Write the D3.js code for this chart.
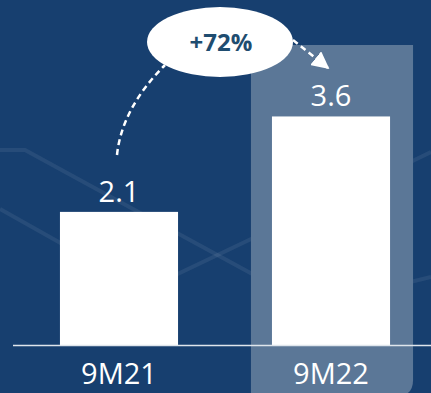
<!DOCTYPE html>
<html>
<head>
<meta charset="utf-8">
<script src="https://cdn.jsdelivr.net/npm/d3@7"></script>
<style>
  html, body { margin: 0; padding: 0; background: #173f6f; }
  svg { display: block; }
</style>
</head>
<body>
<svg id="chart" width="431" height="393"></svg>
<script>
// Period labels and values (bn)
const categories = ["9M21", "9M22"];
const values = [2.1, 3.6];
const growthLabel = "+72%";
const highlighted = "9M22";

// Faint decorative background traces
const backdropTraces = [
  [[0, 150], [25, 150], [144, 215], [300, 300]],
  [[0, 209], [144, 290], [270, 230], [431, 152]],
  [[300, 300], [390, 287], [431, 277]]
];

const W = 431, H = 393;
const svg = d3.select("#chart");
const font = "'Open Sans', 'Segoe UI', sans-serif";

const x = d3.scaleBand()
  .domain(categories)
  .range([16, 434])
  .paddingInner(0.443)
  .paddingOuter(0.2073);

const y = d3.scaleLinear().domain([0, 4]).range([345.5, 91]);

// background
svg.append("rect").attr("width", W).attr("height", H).attr("fill", "#173f6f");

svg.append("g")
  .selectAll("path")
  .data(backdropTraces)
  .join("path")
  .attr("d", d3.line())
  .attr("fill", "none")
  .attr("stroke", "#ffffff")
  .attr("stroke-opacity", 0.07)
  .attr("stroke-width", 4);

// highlight panel behind the current period
const hx0 = x(highlighted) - 21, hx1 = x(highlighted) + x.bandwidth() + 23;
const hy0 = 45, hy1 = 396, r = 16;
svg.append("path")
  .attr("d", `M${hx0},${hy0}H${hx1}V${hy1 - r}Q${hx1},${hy1} ${hx1 - r},${hy1}H${hx0}Z`)
  .attr("fill", "#5b7797");

// bars
svg.append("g")
  .selectAll("rect")
  .data(values)
  .join("rect")
  .attr("x", (d, i) => x(categories[i]))
  .attr("width", x.bandwidth())
  .attr("y", d => y(d))
  .attr("height", d => y(0) - y(d))
  .attr("fill", "#ffffff");

// baseline
svg.append("line")
  .attr("x1", 13).attr("x2", W)
  .attr("y1", y(0)).attr("y2", y(0))
  .attr("stroke", "#dfe5ec")
  .attr("stroke-width", 1.6);

// value labels
svg.append("g")
  .selectAll("text")
  .data(values)
  .join("text")
  .attr("x", (d, i) => x(categories[i]) + x.bandwidth() / 2)
  .attr("y", d => y(d) - 10)
  .attr("text-anchor", "middle")
  .attr("font-family", font)
  .attr("font-size", 29)
  .attr("fill", "#ffffff")
  .text(d => d.toFixed(1));

// category axis
const axis = svg.append("g")
  .attr("transform", `translate(0,${y(0)})`)
  .call(d3.axisBottom(x).tickSize(0).tickPadding(0));
axis.select(".domain").remove();
axis.selectAll("text")
  .attr("dy", null)
  .attr("y", 38)
  .attr("font-family", font)
  .attr("font-size", 29)
  .attr("fill", "#ffffff");

// growth annotation
const defs = svg.append("defs");
defs.append("marker")
  .attr("id", "arrowhead")
  .attr("viewBox", "0 0 10 10")
  .attr("refX", 9).attr("refY", 5)
  .attr("markerWidth", 7).attr("markerHeight", 7)
  .attr("markerUnits", "strokeWidth")
  .attr("orient", "auto")
  .append("path")
  .attr("d", "M0,0L10,5L0,10Z")
  .attr("fill", "#ffffff");

const c0 = x(categories[0]) + x.bandwidth() / 2;
const c1 = x(categories[1]) + x.bandwidth() / 2;
const cx = (c0 + c1) / 2 - 5, cy = 42;

svg.append("path")
  .attr("d", `M${c0 - 2},155Q${c0 + 3},108 ${cx - 55},65`)
  .attr("fill", "none")
  .attr("stroke", "#ffffff")
  .attr("stroke-width", 2.5)
  .attr("stroke-dasharray", "6,4");

svg.append("path")
  .attr("d", `M${cx + 73},40L${c1 - 3},68`)
  .attr("fill", "none")
  .attr("stroke", "#ffffff")
  .attr("stroke-width", 2.5)
  .attr("stroke-dasharray", "6,4")
  .attr("marker-end", "url(#arrowhead)");

svg.append("ellipse")
  .attr("cx", cx).attr("cy", cy)
  .attr("rx", 73).attr("ry", 35)
  .attr("fill", "#ffffff");

svg.append("text")
  .attr("x", cx + 1).attr("y", cy + 8.5)
  .attr("text-anchor", "middle")
  .attr("font-family", font)
  .attr("font-weight", 700)
  .attr("font-size", 24)
  .attr("fill", "#1f4d70")
  .text(growthLabel);
</script>
</body>
</html>
